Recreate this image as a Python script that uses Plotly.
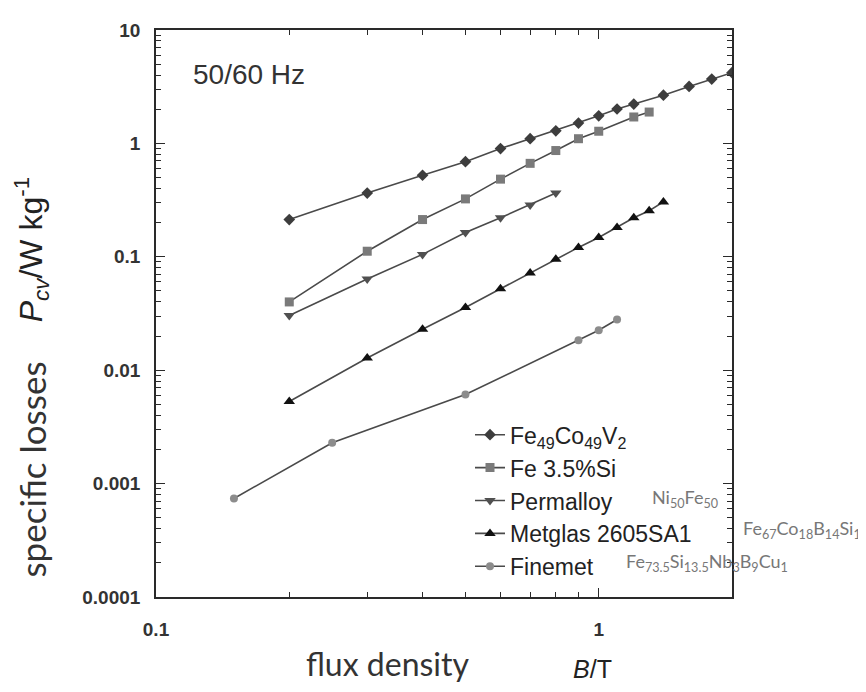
import plotly.graph_objects as go

# ---- data ----
feco_B = [0.2, 0.3, 0.4, 0.5, 0.6, 0.7, 0.8, 0.9, 1.0, 1.1, 1.2, 1.4, 1.6, 1.8, 2.0]
feco_P = [0.213, 0.365, 0.524, 0.69, 0.90, 1.10, 1.29, 1.51, 1.75, 2.01, 2.22, 2.66, 3.18, 3.69, 4.2]

fesi_B = [0.2, 0.3, 0.4, 0.5, 0.6, 0.7, 0.8, 0.9, 1.0, 1.2, 1.3]
fesi_P = [0.040, 0.112, 0.213, 0.324, 0.484, 0.667, 0.865, 1.10, 1.28, 1.71, 1.89]

perm_B = [0.2, 0.3, 0.4, 0.5, 0.6, 0.7, 0.8]
perm_P = [0.0304, 0.0638, 0.105, 0.164, 0.221, 0.287, 0.365]

metg_B = [0.2, 0.3, 0.4, 0.5, 0.6, 0.7, 0.8, 0.9, 1.0, 1.1, 1.2, 1.3, 1.4]
metg_P = [0.0053, 0.0128, 0.023, 0.0357, 0.0522, 0.072, 0.0953, 0.121, 0.148, 0.181, 0.221, 0.255, 0.305]

fine_B = [0.15, 0.25, 0.5, 0.9, 1.0, 1.1]
fine_P = [0.00074, 0.00229, 0.0061, 0.0184, 0.0225, 0.028]

series_names = [
    "Fe<sub>49</sub>Co<sub>49</sub>V<sub>2</sub>",
    "Fe 3.5%Si",
    "Permalloy",
    "Metglas 2605SA1",
    "Finemet",
]
formulas = [
    "",
    "",
    "Ni<sub>50</sub>Fe<sub>50</sub>",
    "Fe<sub>67</sub>Co<sub>18</sub>B<sub>14</sub>Si<sub>1</sub>",
    "Fe<sub>73.5</sub>Si<sub>13.5</sub>Nb<sub>3</sub>B<sub>9</sub>Cu<sub>1</sub>",
]

y_tickvals = [0.0001, 0.001, 0.01, 0.1, 1, 10]
y_ticktext = ["0.0001", "0.001", "0.01", "0.1", "1", "10"]
x_tickvals = [0.1, 1]
x_ticktext = ["0.1", "1"]

# ---- styles ----
styles = [
    dict(symbol="diamond", size=9, color="#3d3d3d"),
    dict(symbol="square", size=9, color="#7a7a7a"),
    dict(symbol="triangle-down", size=10, color="#505050"),
    dict(symbol="triangle-up", size=10, color="#111111"),
    dict(symbol="circle", size=8, color="#8c8c8c"),
]
xs = [feco_B, fesi_B, perm_B, metg_B, fine_B]
ys = [feco_P, fesi_P, perm_P, metg_P, fine_P]

fig = go.Figure()
for name, x, y, st in zip(series_names, xs, ys, styles):
    fig.add_trace(go.Scatter(
        x=x, y=y, name=name, mode="lines+markers",
        line=dict(color="#4a4a4a", width=1.6),
        marker=dict(symbol=st["symbol"], size=st["size"], color=st["color"]),
    ))

# page has an 8px body margin; plot area wanted at page x 156..732, y 23..597
OFF = 8
W, H = 866 - OFF, 692 - OFF
PL, PR, PT, PB = 156, 732, 23, 597
L, T = PL - OFF, PT - OFF
R, B = W - (PR - OFF), H - (PB - OFF)
pw, ph = PR - PL, PB - PT

def px(xp):
    return (xp - PL) / pw

def py(yp):
    return (PB - yp) / ph

axis_common = dict(
    type="log", showline=True, linecolor="#2a2a2a", linewidth=1.6,
    mirror="ticks", ticks="inside", ticklen=9, tickwidth=1.4, tickcolor="#2a2a2a",
    showgrid=False, zeroline=False,
    minor=dict(ticks="inside", ticklen=5, tickwidth=1.2, tickcolor="#2a2a2a", dtick="D1", showgrid=False),
    tickfont=dict(family="Liberation Sans", size=19, color="#333333", weight="bold"),
)

fig.update_xaxes(range=[-1, 0.30103], tickvals=x_tickvals, ticktext=x_ticktext,
                 ticklabelstandoff=14, **axis_common)
fig.update_yaxes(range=[-4, 1], tickvals=y_tickvals, ticktext=y_ticktext,
                 ticklabelstandoff=10, **axis_common)

ann = []
ann.append(dict(x=px(191), y=py(68), xref="paper", yref="paper", xanchor="left", yanchor="middle",
                text="50/60 Hz", showarrow=False,
                font=dict(family="Liberation Sans", size=28, color="#333333")))
form_pos = [None, None, (650, 497), (741, 529), (624, 562)]
for f, pos in zip(formulas, form_pos):
    if f and pos:
        ann.append(dict(x=px(pos[0]), y=py(pos[1]), xref="paper", yref="paper",
                        xanchor="left", yanchor="middle", text=f, showarrow=False,
                        font=dict(family="Lato", size=18, color="#777777")))
ann.append(dict(x=px(32), y=py(468), xref="paper", yref="paper", xanchor="center", yanchor="middle",
                text="specific losses", textangle=-90, showarrow=False,
                font=dict(family="Lato", size=35, color="#333333")))
ann.append(dict(x=px(31), y=py(246), xref="paper", yref="paper", xanchor="center", yanchor="middle",
                text="<i>P</i><sub><i>cv</i></sub>/W kg<sup>-1</sup>", textangle=-90, showarrow=False,
                font=dict(family="Liberation Sans", size=32, color="#222222")))
ann.append(dict(x=px(388), y=py(664), xref="paper", yref="paper", xanchor="center", yanchor="middle",
                text="flux density", showarrow=False,
                font=dict(family="Lato", size=32, color="#333333")))
ann.append(dict(x=px(592), y=py(670), xref="paper", yref="paper", xanchor="center", yanchor="middle",
                text="<i>B</i>/T", showarrow=False,
                font=dict(family="Liberation Sans", size=25, color="#222222")))

fig.update_layout(
    width=W, height=H,
    margin=dict(l=L, r=R, t=T, b=B),
    paper_bgcolor="white", plot_bgcolor="white",
    showlegend=True,
    legend=dict(x=px(470), y=py(411), xanchor="left", yanchor="top",
                bgcolor="rgba(0,0,0,0)", tracegroupgap=0,
                font=dict(family="Liberation Sans", size=23, color="#222222")),
    annotations=ann,
)

fig.write_html("out.html")
